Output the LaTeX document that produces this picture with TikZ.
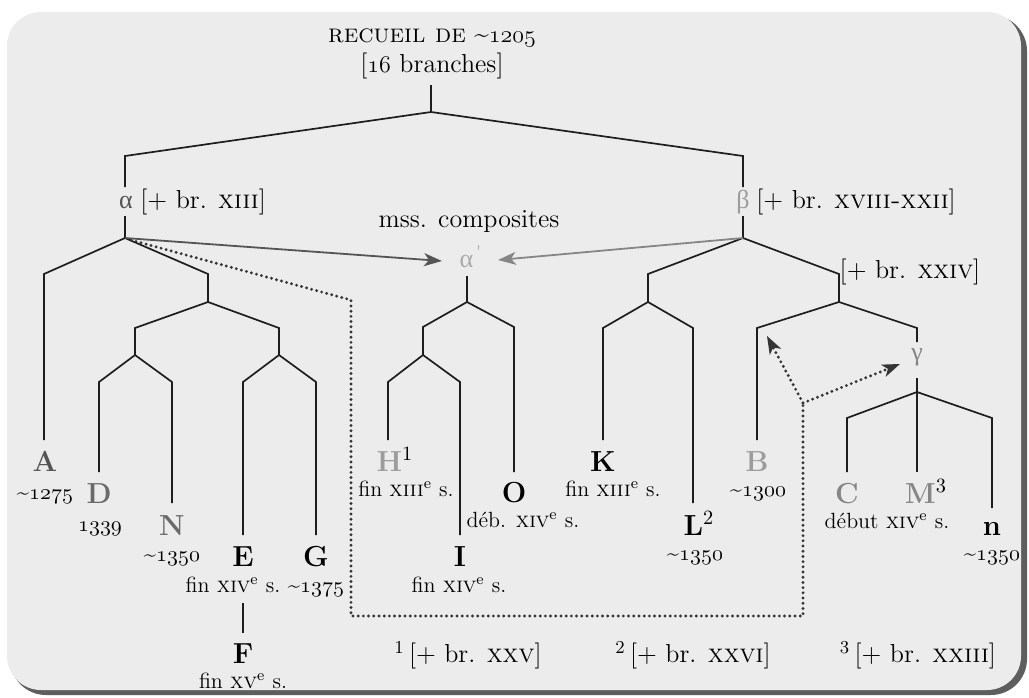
\documentclass[tikz,border=0pt]{standalone}
\usepackage{fontspec}
\usetikzlibrary{arrows.meta}
\newfontfamily\grk{Liberation Serif}
\definecolor{bgc}{HTML}{ECECEC}
\definecolor{shadowc}{HTML}{5E5E5E}
\definecolor{ln}{HTML}{1E1E1E}
\definecolor{gA}{HTML}{555555}
\definecolor{gD}{HTML}{6A6A6A}
\definecolor{gM}{HTML}{868686}
\definecolor{gL}{HTML}{9C9C9C}
\definecolor{gLL}{HTML}{ABABAB}
\definecolor{dotc}{HTML}{353535}
\newcommand{\osn}[1]{{\usefont{OML}{lmm}{m}{it}#1}}
\newcommand{\tld}{\textasciitilde}
\begin{document}
\begin{tikzpicture}[x=0.5pt,y=-0.5pt,
  tree/.style={draw=ln,line width=0.85pt},
  ms/.style={font=\fontsize{14.5}{16}\selectfont\bfseries,inner sep=0pt,anchor=base},
  dt/.style={font=\fontsize{11}{13}\selectfont,inner sep=0pt,anchor=base},
  lab/.style={font=\fontsize{13}{15}\selectfont,inner sep=0pt,anchor=base},
  dots/.style={draw=dotc,line width=1.6pt,line cap=round,dash pattern=on 0pt off 2.6pt},
  arr/.style={-{Stealth[length=9pt,width=6.5pt,inset=2.5pt]}},
  darr/.style={-{Stealth[length=9pt,width=6.5pt,inset=2.5pt,fill=dotc,line width=0.6pt]}}
]
\useasboundingbox (0,0) rectangle (1029,697);
\fill[shadowc,rounded corners=18pt] (10,15) rectangle (1027,695);
\fill[bgc,rounded corners=17pt] (7,12) rectangle (1021,690);

% coordinates
\coordinate (r0) at (431,85);
\coordinate (r1) at (431,112);
\coordinate (aT) at (125,156);
\coordinate (bT) at (743,156);
\coordinate (aU) at (125,187);
\coordinate (aD) at (125,216);
\coordinate (aJ) at (125,238);
\coordinate (bU) at (743,187);
\coordinate (bD) at (743,216);
\coordinate (bJ) at (743,238);
\coordinate (Acor) at (44,274);
\coordinate (Aend) at (44,440);
\coordinate (c1) at (208,274);
\coordinate (j1) at (208,302);
\coordinate (c2) at (135,328);
\coordinate (j2) at (135,355);
\coordinate (Dcor) at (99,382);
\coordinate (Dend) at (99,472);
\coordinate (Ncor) at (172,382);
\coordinate (Nend) at (172,503);
\coordinate (c3) at (279,328);
\coordinate (j3) at (279,355);
\coordinate (Ecor) at (243,382);
\coordinate (Eend) at (243,535);
\coordinate (Gcor) at (316,382);
\coordinate (Gend) at (316,535);
\coordinate (Ftop) at (243,603);
\coordinate (Fbot) at (243,633);
\coordinate (apB) at (467,276);
\coordinate (k1) at (467,302);
\coordinate (c4) at (423,327);
\coordinate (k2) at (423,355);
\coordinate (Hcor) at (388,382);
\coordinate (Hend) at (388,440);
\coordinate (Icor) at (460,382);
\coordinate (Iend) at (460,535);
\coordinate (Ocor) at (514,327);
\coordinate (Oend) at (514,472);
\coordinate (c5) at (648,274);
\coordinate (m1) at (648,302);
\coordinate (Kcor) at (603,328);
\coordinate (Kend) at (603,440);
\coordinate (Lcor) at (693,328);
\coordinate (Lend) at (693,503);
\coordinate (c6) at (839,274);
\coordinate (m2) at (839,302);
\coordinate (Bcor) at (757,328);
\coordinate (Bend) at (757,440);
\coordinate (gcor) at (917,328);
\coordinate (gU) at (917,342);
\coordinate (gD) at (917,378);
\coordinate (g1) at (917,392);
\coordinate (Ccor) at (847,418);
\coordinate (Cend) at (847,472);
\coordinate (Mend) at (917,472);
\coordinate (ncor) at (992,418);
\coordinate (nend) at (992,508);
\coordinate (apL) at (442,261);
\coordinate (apR) at (498,260);
\coordinate (d0) at (131,240);
\coordinate (d1) at (351,300);
\coordinate (d2) at (351,616);
\coordinate (d3) at (803,616);
\coordinate (d4) at (803,403);
\coordinate (Btip) at (767,336);
\coordinate (gtip) at (900,364);

% tree
\draw[tree] (r0) -- (r1);
\draw[tree] (aU) -- (aT) -- (r1) -- (bT) -- (bU);
\draw[tree] (aD) -- (aJ);
\draw[tree] (bD) -- (bJ);
\draw[tree] (Aend) -- (Acor) -- (aJ) -- (c1) -- (j1);
\draw[tree] (j2) -- (c2) -- (j1) -- (c3) -- (j3);
\draw[tree] (Dend) -- (Dcor) -- (j2) -- (Ncor) -- (Nend);
\draw[tree] (Eend) -- (Ecor) -- (j3) -- (Gcor) -- (Gend);
\draw[tree] (Ftop) -- (Fbot);
\draw[tree] (apB) -- (k1);
\draw[tree] (k2) -- (c4) -- (k1) -- (Ocor) -- (Oend);
\draw[tree] (Hend) -- (Hcor) -- (k2) -- (Icor) -- (Iend);
\draw[tree] (m1) -- (c5) -- (bJ) -- (c6) -- (m2);
\draw[tree] (Kend) -- (Kcor) -- (m1) -- (Lcor) -- (Lend);
\draw[tree] (Bend) -- (Bcor) -- (m2) -- (gcor) -- (gU);
\draw[tree] (gD) -- (g1) -- (Mend);
\draw[tree] (Cend) -- (Ccor) -- (g1) -- (ncor) -- (nend);

% arrows
\draw[arr,draw=gA,fill=gA,line width=0.9pt] (aJ) -- (apL);
\draw[arr,draw=gM,fill=gM,line width=0.9pt] (bJ) -- (apR);
\draw[dots] (d0) -- (d1) -- (d2) -- (d3) -- (d4);
\draw[dots,darr] (d4) -- (Btip);
\draw[dots,darr] (d4) -- (gtip);

% labels top
\node[lab] (title) at (432,42) {\textsc{recueil de} \tld\osn{1205}};
\node[lab] (branches) at (432,72) {[\osn{16} branches]};
\node[lab,text=gA] (alpha) at (126,208) {\grk α};
\node[lab,anchor=base west] (alphaT) at (140,208) {[+ br. \textsc{xiii}]};
\node[lab,text=gL] (beta) at (743,208) {\grk β};
\node[lab,anchor=base west] (betaT) at (756,208) {[+ br. \textsc{xviii-xxii}]};
\node[lab] (mss) at (469,227) {mss. composites};
\node[lab,text=gLL] (alphap) at (471,267) {{\grk α}\textsuperscript{\,\textquotesingle}};
\node[lab] (xxiv) at (910,278) {[+ br. \textsc{xxiv}]};
\node[lab,text=gM] (gamma) at (917,360) {\grk γ};

% manuscripts
\node[ms,text=gA] (A) at (45,471) {A};
\node[dt] (A-d) at (45,499) {\tld\osn{1275}};
\node[ms,text=gD] (D) at (99,503) {D};
\node[dt] (D-d) at (100,531) {\osn{1339}};
\node[ms,text=gD] (N) at (172,535) {N};
\node[dt] (N-d) at (172,561) {\tld\osn{1350}};
\node[ms] (E) at (243,566) {E};
\node[dt] (E-d) at (233,592) {fin \textsc{xiv}\textsuperscript{e} s.};
\node[ms] (G) at (316,566) {G};
\node[dt] (G-d) at (316,592) {\tld\osn{1375}};
\node[ms] (F) at (243,663) {F};
\node[dt] (F-d) at (243,688) {fin \textsc{xv}\textsuperscript{e} s.};
\node[ms] (H) at (395,471) {\textcolor{gL}{H}\textsuperscript{\mdseries 1}};
\node[dt] (H-d) at (406,496) {fin \textsc{xiii}\textsuperscript{e} s.};
\node[ms] (I) at (460,566) {I};
\node[dt] (I-d) at (459,592) {fin \textsc{xiv}\textsuperscript{e} s.};
\node[ms] (O) at (514,502) {O};
\node[dt] (O-d) at (523,527) {déb. \textsc{xiv}\textsuperscript{e} s.};
\node[ms] (K) at (603,471) {K};
\node[dt] (K-d) at (613,496) {fin \textsc{xiii}\textsuperscript{e} s.};
\node[ms] (L) at (699,535) {L\textsuperscript{\mdseries 2}};
\node[dt] (L-d) at (695,560) {\tld\osn{1350}};
\node[ms,text=gL] (B) at (757,471) {B};
\node[dt] (B-d) at (758,496) {\tld\osn{1300}};
\node[ms,text=gM] (C) at (847,503) {C};
\node[ms] (M) at (926,503) {\textcolor{gM}{M}\textsuperscript{\mdseries 3}};
\node[dt] (M-d) at (887,528) {début \textsc{xiv}\textsuperscript{e} s.};
\node[ms] (n) at (992,535) {n};
\node[dt] (n-d) at (992,560) {\tld\osn{1350}};

% footnotes
\node[lab] (fn1) at (468,662) {\textsuperscript{1}\,[+ br. \textsc{xxv}]};
\node[lab] (fn2) at (693,662) {\textsuperscript{2}\,[+ br. \textsc{xxvi}]};
\node[lab] (fn3) at (918,662) {\textsuperscript{3}\,[+ br. \textsc{xxiii}]};
\end{tikzpicture}
\end{document}
